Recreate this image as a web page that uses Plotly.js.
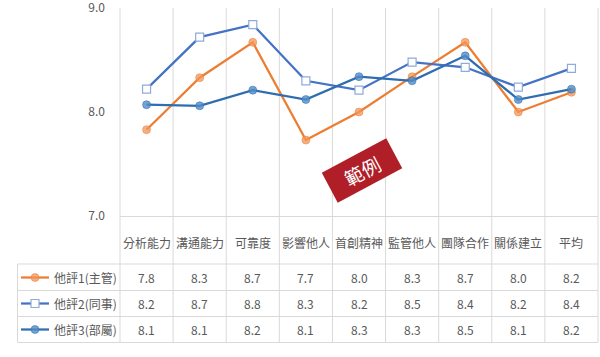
<!DOCTYPE html>
<html>
<head>
<meta charset="utf-8">
<script src="https://cdn.plot.ly/plotly-3.0.1.min.js"></script>
<style>html,body{margin:0;padding:0;background:#fff;}#chart{width:600px;height:357px;}</style>
</head>
<body>
<div id="chart"></div>
<script>
const categories = ['分析能力','溝通能力','可靠度','影響他人','首創精神','監管他人','團隊合作','關係建立','平均'];
const seriesNames = ['他評1(主管)','他評2(同事)','他評3(部屬)'];
const eval1 = [7.83, 8.33, 8.67, 7.73, 8.00, 8.34, 8.67, 8.00, 8.19];
const eval2 = [8.22, 8.72, 8.84, 8.30, 8.21, 8.48, 8.43, 8.24, 8.42];
const eval3 = [8.07, 8.06, 8.21, 8.12, 8.34, 8.30, 8.54, 8.12, 8.22];
const yTicks = [7, 8, 9];
const stampText = '範例';

const W = 600, H = 357;
const L = 120, R = 598, T = 8, B = 216;
const FONT = '"Noto Sans CJK TC", "Noto Sans", sans-serif';
const TXT = '#595959';
const GRID = '#D9D9D9';
const px2x = p => (p - L) / (R - L);
const py2y = p => (B - p) / (B - T);

const styles = [
  {line: {color: '#ED7D31', width: 2.25}, marker: {symbol: 'circle', size: 8, color: 'rgba(240,150,90,0.75)', line: {color: 'rgba(237,125,49,0.5)', width: 1}}},
  {line: {color: '#4472C4', width: 2.25}, marker: {symbol: 'square', size: 8, color: '#FFFFFF', line: {color: '#8FAADC', width: 1.2}}},
  {line: {color: '#2E6DB0', width: 2.25}, marker: {symbol: 'circle', size: 8, color: 'rgba(80,140,200,0.8)', line: {color: 'rgba(46,109,176,0.5)', width: 1}}}
];
const allSeries = [eval1, eval2, eval3];

const traces = allSeries.map((vals, i) => ({
  type: 'scatter', mode: 'lines+markers', name: seriesNames[i],
  x: categories, y: vals, line: styles[i].line, marker: styles[i].marker,
  cliponaxis: false, hoverinfo: 'skip'
}));

const shapes = [];
const annotations = [];
const rowY = [264, 290.5, 316.5, 342.5];
const rowCenters = [277.5, 303.5, 329.5];
const tableLeft = 17.5;

for (let k = 0; k <= categories.length; k++) {
  shapes.push({type: 'line', xref: 'x domain', yref: 'paper', x0: k / categories.length, x1: k / categories.length,
    y0: 1, y1: py2y(rowY[3]), line: {color: GRID, width: 1}, layer: 'below'});
}
rowY.forEach(p => shapes.push({type: 'line', xref: 'paper', yref: 'paper', x0: px2x(tableLeft), x1: 1,
  y0: py2y(p), y1: py2y(p), line: {color: GRID, width: 1}, layer: 'below'}));
shapes.push({type: 'line', xref: 'paper', yref: 'paper', x0: px2x(tableLeft), x1: px2x(tableLeft),
  y0: py2y(rowY[0]), y1: py2y(rowY[3]), line: {color: GRID, width: 1}, layer: 'below'});

categories.forEach(c => annotations.push({xref: 'x', yref: 'paper', x: c, y: py2y(242), text: c, showarrow: false,
  font: {family: FONT, size: 12, color: TXT}, xanchor: 'center', yanchor: 'middle'}));

allSeries.forEach((vals, i) => {
  const yc = py2y(rowCenters[i]);
  shapes.push({type: 'line', xref: 'paper', yref: 'paper', x0: px2x(21), x1: px2x(49), y0: yc, y1: yc,
    line: {color: styles[i].line.color, width: 2.25}});
  if (styles[i].marker.symbol === 'square') {
    shapes.push({type: 'rect', xref: 'paper', yref: 'paper', x0: px2x(31), x1: px2x(39), y0: py2y(rowCenters[i] + 4), y1: py2y(rowCenters[i] - 4),
      fillcolor: '#FFFFFF', line: {color: styles[i].marker.line.color, width: 1.2}});
  } else {
    shapes.push({type: 'circle', xref: 'paper', yref: 'paper', x0: px2x(31), x1: px2x(39), y0: py2y(rowCenters[i] + 4), y1: py2y(rowCenters[i] - 4),
      fillcolor: styles[i].marker.color, line: {color: styles[i].marker.line.color, width: 1}});
  }
  annotations.push({xref: 'paper', yref: 'paper', x: px2x(52), y: yc, text: seriesNames[i], showarrow: false,
    font: {family: FONT, size: 12, color: TXT}, xanchor: 'left', yanchor: 'middle'});
  vals.forEach((v, j) => annotations.push({xref: 'x', yref: 'paper', x: categories[j], y: yc, text: v.toFixed(1), showarrow: false,
    font: {family: FONT, size: 12, color: TXT}, xanchor: 'center', yanchor: 'middle'}));
});

annotations.push({xref: 'paper', yref: 'paper', x: px2x(362), y: py2y(170.5), text: stampText, showarrow: false,
  textangle: -28, bgcolor: '#B01E28', width: 72, height: 33, borderpad: 0,
  font: {family: FONT, size: 19, color: '#FFFFFF'}, xanchor: 'center', yanchor: 'middle'});

const layout = {
  width: W, height: H,
  margin: {l: L, r: W - R, t: T, b: H - B},
  paper_bgcolor: '#FFFFFF', plot_bgcolor: '#FFFFFF',
  showlegend: false,
  font: {family: FONT, size: 12, color: TXT},
  xaxis: {type: 'category', range: [-0.5, categories.length - 0.5], showgrid: false, showticklabels: false,
    zeroline: false, showline: true, linecolor: GRID, linewidth: 1, ticks: '', fixedrange: true},
  yaxis: {range: [7, 9.0001], tickvals: yTicks, tickformat: '.1f', showgrid: false, zeroline: false, showline: false,
    ticks: '', ticklabelstandoff: 14, ticklabeloverflow: 'allow', tickfont: {family: FONT, size: 12, color: TXT}, fixedrange: true},
  shapes: shapes, annotations: annotations
};

Plotly.newPlot('chart', traces, layout, {displayModeBar: false, staticPlot: true});
</script>
</body>
</html>
